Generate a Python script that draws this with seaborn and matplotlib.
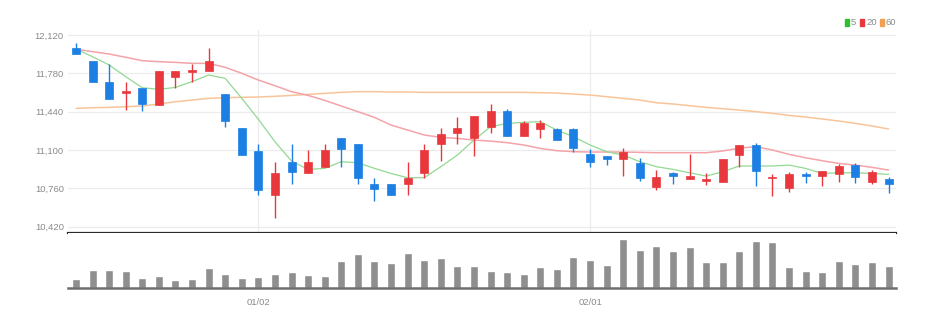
import matplotlib
matplotlib.use("Agg")
import matplotlib.pyplot as plt
import seaborn as sns
import pandas as pd
import numpy as np
from matplotlib.patches import Rectangle

# ---------------- data ----------------
date_ticks = [11, 31]
date_labels = ["01/02", "02/01"]

opens = [12001, 11892, 11700, 11608, 11646, 11502, 11750, 11791, 11797, 11593,
         11298, 11094, 10700, 10996, 10898, 10952, 11203, 11150, 10798, 10798,
         10798, 10898, 11150, 11247, 11203, 11301, 11448, 11227, 11283, 11283,
         11283, 11064, 11046, 11017, 10987, 10774, 10892, 10839, 10828, 10819,
         11055, 11144, 10848, 10759, 10887, 10872, 10887, 10966, 10813, 10842]
highs = [12052, 11892, 11859, 11700, 11646, 11797, 11797, 11859, 12001, 11593,
         11298, 11150, 10996, 11150, 11100, 11150, 11203, 11150, 10848, 10798,
         10996, 11150, 11292, 11395, 11401, 11505, 11460, 11357, 11366, 11295,
         11295, 11105, 11046, 11114, 11026, 10922, 10907, 11064, 10898, 11020,
         11144, 11165, 10887, 10901, 10907, 10916, 10972, 10987, 10922, 10863]
lows = [11951, 11700, 11552, 11454, 11446, 11502, 11652, 11706, 11797, 11301,
        11052, 10700, 10499, 10798, 10898, 10952, 10952, 10798, 10650, 10700,
        10700, 10848, 11002, 11150, 11046, 11253, 11224, 11227, 11209, 11188,
        11079, 10946, 10966, 10872, 10827, 10745, 10798, 10839, 10789, 10819,
        10952, 10783, 10691, 10730, 10810, 10780, 10818, 10810, 10798, 10721]
closes = [11951, 11700, 11552, 11623, 11508, 11797, 11797, 11806, 11892, 11357,
          11052, 10745, 10898, 10901, 10996, 11100, 11108, 10854, 10751, 10700,
          10848, 11100, 11241, 11297, 11401, 11448, 11224, 11336, 11336, 11188,
          11114, 10993, 11017, 11085, 10848, 10863, 10872, 10872, 10842, 11020,
          11144, 10916, 10863, 10887, 10872, 10916, 10958, 10857, 10901, 10795]

ma5 = [11995, 11927, 11854, 11750, 11652, 11638, 11655, 11706, 11765, 11735,
       11558, 11372, 11173, 11002, 10928, 10937, 10996, 10987, 10937, 10892,
       10854, 10854, 10952, 11055, 11188, 11306, 11336, 11345, 11351, 11277,
       11218, 11144, 11085, 11055, 10996, 10952, 10928, 10898, 10869, 10907,
       10958, 10958, 10958, 10966, 10937, 10892, 10898, 10898, 10892, 10884]
ma20 = [11993, 11972, 11951, 11922, 11892, 11883, 11877, 11868, 11868, 11833,
        11780, 11720, 11670, 11617, 11584, 11540, 11490, 11440, 11389, 11321,
        11277, 11233, 11212, 11203, 11188, 11179, 11165, 11144, 11114, 11094,
        11085, 11082, 11082, 11082, 11079, 11076, 11076, 11076, 11076, 11091,
        11117, 11129, 11100, 11061, 11031, 11005, 10981, 10966, 10946, 10922]
ma60 = [11469, 11475, 11478, 11484, 11490, 11508, 11528, 11543, 11558, 11564,
        11567, 11570, 11576, 11584, 11593, 11602, 11611, 11617, 11617, 11614,
        11614, 11611, 11611, 11611, 11611, 11611, 11611, 11611, 11608, 11605,
        11596, 11587, 11573, 11558, 11543, 11519, 11508, 11493, 11478, 11466,
        11454, 11440, 11425, 11407, 11392, 11375, 11357, 11336, 11313, 11286]

volume = [8, 17, 17, 16, 9, 11, 7, 8, 19, 13, 9, 10, 13, 15, 12, 11, 26, 33, 26, 24,
          34, 27, 29, 21, 21, 16, 15, 13, 20, 18, 30, 27, 22, 48, 37, 41, 36, 40, 25, 25,
          36, 46, 45, 20, 16, 15, 26, 23, 25, 21]

price_ticks = [10420, 10760, 11100, 11440, 11780, 12120]
legend_labels = ["5", "20", "60"]

# ---------------- style ----------------
sns.set_style("white")
plt.rcParams["font.family"] = ["Liberation Sans Narrow", "Liberation Sans", "DejaVu Sans"]

UP = "#e8383d"
DOWN = "#1b7fe3"
C_MA5 = "#92d992"
C_MA20 = "#f4a3a8"
C_MA60 = "#f8c59a"
TXT = "#8a8a8a"

W, H = 939, 323
fig = plt.figure(figsize=(W / 100, H / 100), dpi=100)
fig.patch.set_facecolor("white")

left_px, right_px = 68, 896
ax = fig.add_axes([left_px / W, 1 - 233 / H, (right_px - left_px) / W, (233 - 30) / H])
axv = fig.add_axes([left_px / W, 1 - 287.5 / H, (right_px - left_px) / W, (287.5 - 233) / H], sharex=ax)

n = len(closes)
idx = np.arange(n)
df = pd.DataFrame({"i": idx, "open": opens, "high": highs, "low": lows,
                   "close": closes, "ma5": ma5, "ma20": ma20, "ma60": ma60,
                   "vol": volume})

# price panel
for yv in price_ticks:
    ax.axhline(yv, color="#ececec", lw=0.9, zorder=0)
for xv in date_ticks:
    ax.axvline(xv, color="#ececec", lw=0.9, zorder=0)

sns.lineplot(data=df, x="i", y="ma60", color=C_MA60, lw=1.1, ax=ax, zorder=2)
sns.lineplot(data=df, x="i", y="ma20", color=C_MA20, lw=1.1, ax=ax, zorder=2)
sns.lineplot(data=df, x="i", y="ma5", color=C_MA5, lw=0.9, ax=ax, zorder=2)

colors = [UP if c >= o else DOWN for o, c in zip(opens, closes)]
ax.vlines(idx, lows, highs, colors=colors, lw=1.0, zorder=3)
bottoms = np.minimum(opens, closes)
heights = np.maximum(np.abs(np.array(closes) - np.array(opens)), 14)
ax.bar(idx, heights, bottom=bottoms, width=0.48, color=colors, edgecolor=colors,
       lw=0.5, zorder=4)

ax.set_xlim(-0.48, 49.45)
ax.set_ylim(10364, 12164)
ax.set_yticks(price_ticks)
ax.set_yticklabels([f"{v:,}" for v in price_ticks], fontsize=6.8, color=TXT)
ax.tick_params(axis="y", length=0, pad=3)
ax.tick_params(axis="x", length=0, labelbottom=False)
ax.set_xlabel("")
ax.set_ylabel("")
for s in ["top", "right", "left"]:
    ax.spines[s].set_visible(False)
ax.spines["bottom"].set_color("#2b2b2b")
ax.spines["bottom"].set_linewidth(1.6)

# volume panel
sns.barplot(data=df, x="i", y="vol", native_scale=True, color="#8f8f8f",
            saturation=1, width=0.48, ax=axv, zorder=2)
axv.set_ylim(0, 54)
axv.set_yticks([])
axv.set_xlim(-0.48, 49.45)
axv.set_xticks(date_ticks)
axv.set_xticklabels(date_labels, fontsize=6.8, color=TXT)
axv.tick_params(axis="x", length=3, width=1, color="#555555", pad=4.5)
axv.set_xlabel("")
axv.set_ylabel("")
for s in ["top", "right", "left"]:
    axv.spines[s].set_visible(False)
axv.spines["bottom"].set_color("#6e6e6e")
axv.spines["bottom"].set_linewidth(1.8)

# legend (top right)
leg_items = [(845, "#2ec02e", legend_labels[0], 851.0),
             (860, "#e8383d", legend_labels[1], 866.0),
             (880, "#f0a050", legend_labels[2], 886.0)]
for xs, col, lab, xt in leg_items:
    fig.patches.append(Rectangle((xs / W, 1 - 26 / H), 4 / W, 7 / H,
                                 transform=fig.transFigure, color=col, figure=fig))
    fig.text(xt / W, 1 - 22.5 / H, lab, fontsize=6.8, color=TXT, ha="left", va="center")

fig.savefig("out.png", dpi=100, facecolor="white")
